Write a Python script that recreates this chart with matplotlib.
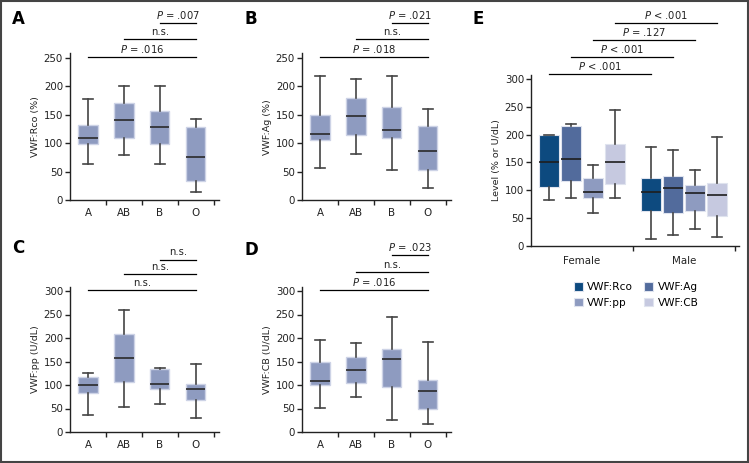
import numpy as np
import matplotlib
matplotlib.use('Agg')
from matplotlib import pyplot as plt
from matplotlib.patches import Rectangle

# grupos sanguineos
groups = ['A', 'AB', 'B', 'O']

# cajas: [whislo, q1, med, q3, whishi]
rco = [[63, 98, 109, 132, 178], [79, 110, 140, 170, 201], [64, 98, 128, 156, 201], [14, 34, 75, 129, 143]]
ag = [[57, 105, 116, 149, 219], [81, 115, 148, 180, 213], [53, 109, 124, 164, 219], [21, 53, 86, 131, 161]]
pp = [[36, 82, 99, 116, 126], [54, 106, 157, 208, 259], [59, 91, 102, 133, 136], [29, 68, 91, 102, 145]]
cb = [[51, 101, 109, 148, 195], [74, 104, 132, 160, 189], [26, 95, 156, 176, 245], [18, 48, 87, 110, 191]]

# sexo
sexes = ['Female', 'Male']
series_names = ['VWF:Rco', 'VWF:Ag', 'VWF:pp', 'VWF:CB']
sex_female = [[83, 106, 150, 200, 200], [86, 117, 157, 215, 220], [59, 86, 97, 122, 145], [87, 111, 150, 184, 244]]
sex_male = [[13, 62, 97, 123, 178], [20, 60, 104, 125, 172], [30, 63, 95, 110, 136], [17, 54, 92, 114, 196]]

# comparaciones (desde grupo i hasta O)
sig_A = [(0, 'P = .016'), (1, 'n.s.'), (2, 'P = .007')]
sig_B = [(0, 'P = .018'), (1, 'n.s.'), (2, 'P = .021')]
sig_C = [(0, 'n.s.'), (1, 'n.s.'), (2, 'n.s.')]
sig_D = [(0, 'P = .016'), (1, 'n.s.'), (2, 'P = .023')]
sig_E = ['P < .001', 'P < .001', 'P = .127', 'P < .001']

BOXC = '#8e9bc0'
E_COLORS = ['#0d4a7f', '#526b9c', '#8e9bc0', '#c6c9e0']
WC = '#444444'

plt.rcParams['font.family'] = ['DejaVu Sans']
plt.rcParams['mathtext.fontset'] = 'dejavusans'

fig = plt.figure(figsize=(7.49, 4.63), dpi=100)

W = 7.49 * 100
H = 4.63 * 100


def stats(vals):
    lo, q1, med, q3, hi = vals
    return {'whislo': lo, 'q1': q1, 'med': med, 'q3': q3, 'whishi': hi, 'fliers': []}


def fmt(label):
    if label.startswith('P'):
        return r'$\it{P}$' + label[1:]
    return label


def style_axis(ax, ymax, yticks):
    ax.spines['top'].set_visible(False)
    ax.spines['right'].set_visible(False)
    for s in ['left', 'bottom']:
        ax.spines[s].set_color('#222222')
        ax.spines[s].set_linewidth(1.0)
    ax.set_ylim(0, ymax)
    ax.set_yticks(yticks)
    ax.tick_params(axis='y', direction='out', length=3.5, width=1, color='#222222',
                   labelsize=7.4, pad=1.5, labelcolor='#222222')
    ax.tick_params(axis='x', which='major', direction='out', length=3.5, width=1,
                   color='#222222', labelbottom=False)
    ax.tick_params(axis='x', which='minor', length=0, labelsize=7.4, pad=5.5,
                   labelcolor='#222222')


def panel(rect, data, ylabel, ymax, yticks, sig, sig_y, letter, letter_y):
    ax = fig.add_axes(rect)
    pos = np.arange(len(groups))
    ax.bxp([stats(v) for v in data], positions=pos, widths=0.54, patch_artist=True,
           showfliers=False,
           boxprops=dict(facecolor=BOXC, edgecolor='#cdd3e6', linewidth=1.0),
           whiskerprops=dict(color=WC, linewidth=1.2),
           capprops=dict(color=WC, linewidth=1.2),
           medianprops=dict(color='#2a2a2a', linewidth=1.2),
           capwidths=0.27)
    ax.set_xlim(-0.5, 3.65)
    ax.set_xticks(pos + 0.5)
    ax.set_xticks(pos, minor=True)
    ax.set_xticklabels(groups, minor=True)
    style_axis(ax, ymax, yticks)
    ax.set_ylabel(ylabel, fontsize=6.8, labelpad=3, color='#222222')
    for (i, label), y in zip(sig, sig_y):
        ax.plot([pos[i], pos[-1]], [y, y], color='black', lw=0.9, clip_on=False)
        ax.annotate(fmt(label), xy=((pos[i] + pos[-1]) / 2, y), xytext=(0, 1.5),
                    textcoords='offset points', ha='center', va='bottom',
                    fontsize=7.2, color='#222222', annotation_clip=False)
    fig.text(rect[0] - 58 / W, 1 - letter_y / H, letter, fontsize=12,
             fontweight='bold', va='center', ha='left')
    return ax


# posiciones en pixeles -> fraccion
ax_w = 149 / W
top_h = 258 * 0.568 / H
bot_h = 308 * 0.47 / H

panel([70 / W, 1 - 200 / H, ax_w, top_h], rco, 'VWF:Rco (%)', 258, np.arange(0, 251, 50),
      sig_A, [252, 283, 312], 'A', 19)
panel([302 / W, 1 - 200 / H, ax_w, top_h], ag, 'VWF:Ag (%)', 258, np.arange(0, 251, 50),
      sig_B, [252, 283, 312], 'B', 19)
panel([70 / W, 1 - 432 / H, ax_w, bot_h], pp, 'VWF:pp (U/dL)', 308, np.arange(0, 301, 50),
      sig_C, [303, 336, 367], 'C', 248)
panel([302 / W, 1 - 432 / H, ax_w, bot_h], cb, 'VWF:CB (U/dL)', 308, np.arange(0, 301, 50),
      sig_D, [303, 340, 377], 'D', 250)

# panel E
rectE = [531 / W, 1 - 246 / H, 208 / W, 308 * 0.5567 / H]
axE = fig.add_axes(rectE)
offsets = np.array([-1.5, -0.5, 0.5, 1.5]) * 0.216
handles = []
for k, name in enumerate(series_names):
    p = np.arange(len(sexes)) + offsets[k]
    b = axE.bxp([stats(sex_female[k]), stats(sex_male[k])], positions=p, widths=0.196,
                patch_artist=True, showfliers=False,
                boxprops=dict(facecolor=E_COLORS[k], edgecolor='#dfe3ee', linewidth=0.8),
                whiskerprops=dict(color=WC, linewidth=1.2),
                capprops=dict(color=WC, linewidth=1.2),
                medianprops=dict(color='#1e1e1e', linewidth=1.2),
                capwidths=0.1)
    handles.append(b['boxes'][0])
axE.set_xlim(-0.5, 1.54)
axE.set_xticks([0.5, 1.5])
axE.set_xticks([0, 1], minor=True)
axE.set_xticklabels(sexes, minor=True)
style_axis(axE, 308, np.arange(0, 301, 50))
axE.tick_params(axis='x', which='minor', pad=7)
axE.set_ylabel('Level (% or U/dL)', fontsize=6.8, labelpad=3, color='#222222')
for k, (label, y) in enumerate(zip(sig_E, [309, 339.5, 370.6, 401])):
    x0 = 0 + offsets[k]
    x1 = 1 + offsets[k]
    axE.plot([x0, x1], [y, y], color='black', lw=0.9, clip_on=False)
    axE.annotate(fmt(label), xy=((x0 + x1) / 2, y), xytext=(0, 1.5),
                 textcoords='offset points', ha='center', va='bottom',
                 fontsize=7.2, color='#222222', annotation_clip=False)
fig.text(rectE[0] - 58 / W, 1 - 19 / H, 'E', fontsize=12, fontweight='bold', va='center', ha='left')

order = [0, 2, 1, 3]
leg = fig.legend([handles[i] for i in order], [series_names[i] for i in order], ncol=2,
                 loc='center', bbox_to_anchor=(636 / W, 1 - 295 / H), frameon=False,
                 fontsize=7.6, handlelength=0.9, handleheight=0.9, handletextpad=0.4,
                 columnspacing=1.0, labelspacing=0.5)

# marco
fig.patches.append(Rectangle((0.001, 0.002), 0.997, 0.996, transform=fig.transFigure,
                             fill=False, edgecolor='#444444', linewidth=1.5))

fig.savefig('out.png', dpi=100)
